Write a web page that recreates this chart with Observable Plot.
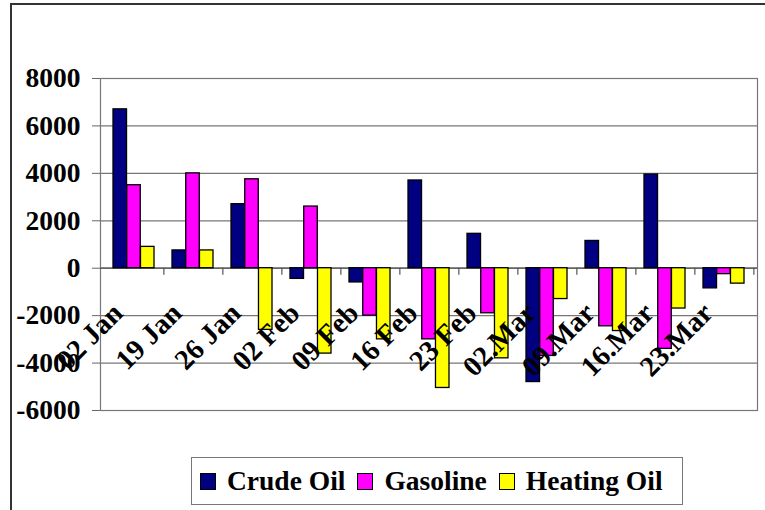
<!DOCTYPE html>
<html><head><meta charset="utf-8">
<script src="https://cdn.jsdelivr.net/npm/d3@7"></script>
<script src="https://cdn.jsdelivr.net/npm/@observablehq/plot@0.6"></script>
<style>
body{margin:0;background:#fff;}
#wrap{position:relative;width:765px;height:510px;overflow:hidden;font-family:"Liberation Serif","Times New Roman",serif;}
#outer{position:absolute;left:10px;top:3px;width:800px;height:600px;border:2px solid #333;box-sizing:border-box;}
#chart{position:absolute;left:0;top:0;}
#legend{position:absolute;left:191px;top:457px;width:492px;height:48px;border:1.5px solid #777;box-sizing:border-box;display:flex;align-items:center;font-weight:bold;font-size:27.5px;padding-left:8px;white-space:nowrap;background:#fff;}
#legend .item{display:flex;align-items:center;margin-right:12px;}
#legend .sw{width:14px;height:15px;border:1.5px solid #000;margin-right:11px;}
</style>
</head><body>
<div id="wrap"><div id="outer"></div><div id="chart"></div><div id="legend"></div></div>
<script>
const dates = ["02 Jan","19 Jan","26 Jan","02 Feb","09 Feb","16 Feb","23 Feb","02.Mar","09.Mar","16.Mar","23.Mar"];
const crudeOil   = [6700, 750, 2700, -450, -600, 3700, 1450, -4800, 1150, 3950, -850];
const gasoline   = [3500, 4000, 3750, 2600, -2000, -3000, -1900, -3700, -2450, -3400, -250];
const heatingOil = [900, 750, -2600, -3600, -3000, -5050, -3800, -1300, -2650, -1700, -650];
const seriesNames = ["Crude Oil", "Gasoline", "Heating Oil"];
const seriesColors = ["#000080", "#FF00FF", "#FFFF00"];
const yTicks = [-6000, -4000, -2000, 0, 2000, 4000, 6000, 8000];
const yDomain = [-6000, 8000];

const seriesValues = [crudeOil, gasoline, heatingOil];
const rows = dates.flatMap((d, i) => seriesNames.map((s, k) => ({date: d, series: s, value: seriesValues[k][i]})));

const W = 765, H = 510, mL = 100, mR = 8, mT = 78, mB = 100;
const padInner = 0.31;
const step = (W - mL - mR) / dates.length;
const third = step * (1 - padInner) / 3;
const unitsPerPx = (yDomain[1] - yDomain[0]) / (H - mT - mB);
const tickLen = 7;

const bars = seriesNames.map((s, k) => Plot.barY(rows.filter(r => r.series === s), {
  x: "date", y: "value", fill: seriesColors[k], stroke: "black", strokeWidth: 1.3,
  insetLeft: k * third, insetRight: (2 - k) * third
}));

const chart = Plot.plot({
  width: W, height: H,
  marginLeft: mL, marginRight: mR, marginTop: mT, marginBottom: mB,
  style: {fontFamily: "'Liberation Serif', 'Times New Roman', serif", fontWeight: "bold", fontSize: "27.5px", color: "black", background: "transparent", overflow: "visible"},
  x: {type: "band", domain: dates, paddingInner: padInner, paddingOuter: padInner / 2, axis: null},
  y: {domain: yDomain, axis: null},
  marks: [
    Plot.gridY(yTicks, {stroke: "#777", strokeOpacity: 1, strokeWidth: 1.2}),
    Plot.frame({stroke: "#777", strokeWidth: 1.2}),
    Plot.axisY(yTicks, {label: null, tickSize: 8, tickPadding: 12, tickFormat: d => String(d), stroke: "#666", fill: "black", fontSize: 27.5, fontWeight: "bold"}),
    Plot.ruleY([0], {stroke: "#555", strokeWidth: 1.2}),
    Plot.ruleX(dates, {x: d => d, y1: 0, y2: -tickLen * unitsPerPx, dx: step / 2, stroke: "#555", strokeWidth: 1.2}),
    ...bars,
    Plot.text(dates, {x: d => d, y: () => 0, text: d => d, rotate: -45, textAnchor: "end", dx: -16, dy: 40, fontSize: 28.5, fontWeight: "bold", fill: "black"})
  ]
});
document.getElementById("chart").appendChild(chart);

const legend = document.getElementById("legend");
seriesNames.forEach((s, k) => {
  const item = document.createElement("div");
  item.className = "item";
  const sw = document.createElement("div");
  sw.className = "sw";
  sw.style.background = seriesColors[k];
  const t = document.createElement("span");
  t.textContent = s;
  item.appendChild(sw); item.appendChild(t);
  legend.appendChild(item);
});
</script>
</body></html>
